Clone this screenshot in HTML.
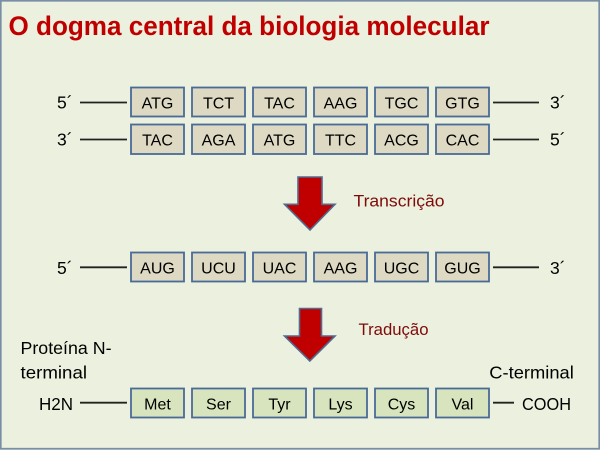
<!DOCTYPE html>
<html><head><meta charset="utf-8"><style>
html,body{margin:0;padding:0;background:#ebf1de;}
svg{display:block;}
text{font-family:"Liberation Sans",sans-serif;}
</style></head><body>
<svg width="600" height="450" viewBox="0 0 600 450" xmlns="http://www.w3.org/2000/svg">
<rect x="0" y="0" width="600" height="450" fill="#ebf1de"/>
<rect x="0.75" y="0.75" width="598.5" height="448" fill="none" stroke="#7a8fa6" stroke-width="1.8"/>
<text x="8.5" y="35" font-size="27" font-weight="bold" fill="#c00000" textLength="481" lengthAdjust="spacingAndGlyphs">O dogma central da biologia molecular</text>

<g stroke="#222" stroke-width="1.8">
<line x1="80" y1="102.5" x2="127" y2="102.5"/>
<line x1="493" y1="102.5" x2="539" y2="102.5"/>
<line x1="80" y1="139.5" x2="127" y2="139.5"/>
<line x1="493" y1="139.5" x2="539" y2="139.5"/>
<line x1="80" y1="267.3" x2="127" y2="267.3"/>
<line x1="493" y1="267.3" x2="539" y2="267.3"/>
<line x1="80" y1="402.7" x2="127" y2="402.7"/>
<line x1="493" y1="402.7" x2="514" y2="402.7"/>
</g>

<g font-size="17.5" fill="#000">
<text x="57" y="108.5">5´</text>
<text x="550" y="108.5">3´</text>
<text x="57" y="145.3">3´</text>
<text x="550" y="145.3">5´</text>
<text x="57" y="274">5´</text>
<text x="550" y="274">3´</text>
<text x="39" y="410" textLength="34" lengthAdjust="spacingAndGlyphs">H2N</text>
<text x="522" y="410" textLength="49" lengthAdjust="spacingAndGlyphs">COOH</text>
<text x="20.5" y="354" textLength="91" lengthAdjust="spacingAndGlyphs">Proteína N-</text>
<text x="20.5" y="378.5" textLength="66.5" lengthAdjust="spacingAndGlyphs">terminal</text>
<text x="489.3" y="378.3" textLength="84.5" lengthAdjust="spacingAndGlyphs">C-terminal</text>
</g>

<g font-size="17" fill="#7f0a0a">
<text x="353.5" y="206.7" textLength="91" lengthAdjust="spacingAndGlyphs">Transcrição</text>
<text x="358.5" y="335.2" textLength="70" lengthAdjust="spacingAndGlyphs">Tradução</text>
</g>

<g stroke="#4a6b97" stroke-width="1.8" fill="#ddd9c3">
<rect x="131" y="87.5" width="53" height="29"/>
<rect x="192" y="87.5" width="53" height="29"/>
<rect x="253" y="87.5" width="53" height="29"/>
<rect x="314" y="87.5" width="53" height="29"/>
<rect x="375" y="87.5" width="53" height="29"/>
<rect x="436" y="87.5" width="53" height="29"/>
<rect x="131" y="124.5" width="53" height="29.5"/>
<rect x="192" y="124.5" width="53" height="29.5"/>
<rect x="253" y="124.5" width="53" height="29.5"/>
<rect x="314" y="124.5" width="53" height="29.5"/>
<rect x="375" y="124.5" width="53" height="29.5"/>
<rect x="436" y="124.5" width="53" height="29.5"/>
<rect x="131" y="252.5" width="53" height="29"/>
<rect x="192" y="252.5" width="53" height="29"/>
<rect x="253" y="252.5" width="53" height="29"/>
<rect x="314" y="252.5" width="53" height="29"/>
<rect x="375" y="252.5" width="53" height="29"/>
<rect x="436" y="252.5" width="53" height="29"/>
</g>
<g stroke="#4a6b97" stroke-width="1.8" fill="#d7e4bd">
<rect x="131" y="388.5" width="53" height="29"/>
<rect x="192" y="388.5" width="53" height="29"/>
<rect x="253" y="388.5" width="53" height="29"/>
<rect x="314" y="388.5" width="53" height="29"/>
<rect x="375" y="388.5" width="53" height="29"/>
<rect x="436" y="388.5" width="53" height="29"/>
</g>

<g font-size="16" fill="#000" text-anchor="middle">
<text x="157.5" y="108.3">ATG</text>
<text x="218.5" y="108.3">TCT</text>
<text x="279.5" y="108.3">TAC</text>
<text x="340.5" y="108.3">AAG</text>
<text x="401.5" y="108.3">TGC</text>
<text x="462.5" y="108.3">GTG</text>
<text x="157.5" y="145.3">TAC</text>
<text x="218.5" y="145.3">AGA</text>
<text x="279.5" y="145.3">ATG</text>
<text x="340.5" y="145.3">TTC</text>
<text x="401.5" y="145.3">ACG</text>
<text x="462.5" y="145.3">CAC</text>
<text x="157.5" y="273.3">AUG</text>
<text x="218.5" y="273.3">UCU</text>
<text x="279.5" y="273.3">UAC</text>
<text x="340.5" y="273.3">AAG</text>
<text x="401.5" y="273.3">UGC</text>
<text x="462.5" y="273.3">GUG</text>
<text x="157.5" y="409.3">Met</text>
<text x="218.5" y="409.3">Ser</text>
<text x="279.5" y="409.3">Tyr</text>
<text x="340.5" y="409.3">Lys</text>
<text x="401.5" y="409.3">Cys</text>
<text x="462.5" y="409.3">Val</text>
</g>

<g fill="#c00000" stroke="#4f6b90" stroke-width="1.6" stroke-linejoin="miter">
<polygon points="298,177 322,177 322,204.3 335,204.3 310,230 284.5,204.3 298,204.3"/>
<polygon points="299.5,308.5 321.5,308.5 321.5,336 335,336 309.8,361 284.5,336 299.5,336"/>
</g>
</svg>
</body></html>
